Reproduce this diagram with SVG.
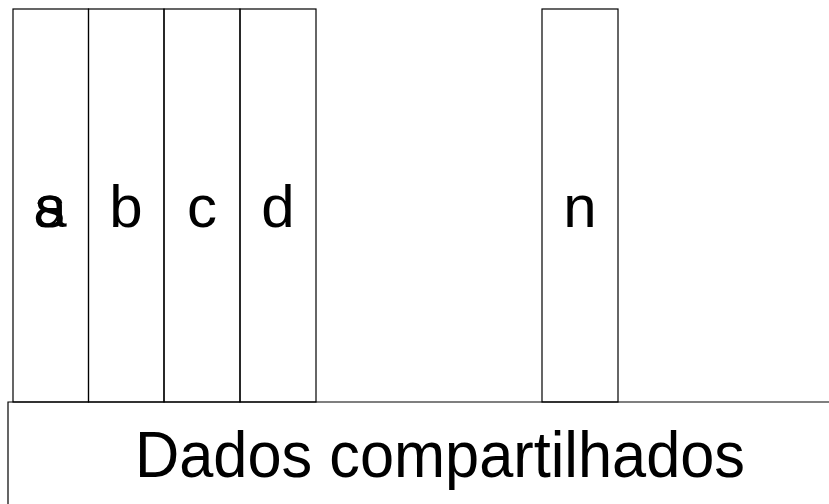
<svg xmlns="http://www.w3.org/2000/svg" width="829" height="504" viewBox="0 0 829 504">
  <style>
    .box { fill: none; stroke: #000; stroke-width: 1.2; }
    .lbl { font-family: "Liberation Sans", Arial, sans-serif; font-size: 60px; fill: #000; text-anchor: middle; }
    .base { font-family: "Liberation Sans", Arial, sans-serif; font-size: 64px; fill: #000; text-anchor: middle; }
  </style>
  <rect width="829" height="504" fill="#fff"/>
  <g id="col-a">
    <rect class="box" x="13" y="9" width="75.5" height="393"/>
    <!-- two labels printed on top of each other in this column -->
    <text class="lbl" x="50" y="227">a</text>
    <text class="lbl" x="50" y="227">s</text>
  </g>
  <g id="col-b">
    <rect class="box" x="88.5" y="9" width="75.5" height="393"/>
    <text class="lbl" x="126" y="227">b</text>
  </g>
  <g id="col-c">
    <rect class="box" x="164" y="9" width="76" height="393"/>
    <text class="lbl" x="202" y="227">c</text>
  </g>
  <g id="col-d">
    <rect class="box" x="240" y="9" width="76" height="393"/>
    <text class="lbl" x="278" y="227">d</text>
  </g>
  <g id="col-n">
    <rect class="box" x="542" y="9" width="76" height="393"/>
    <text class="lbl" x="580" y="227">n</text>
  </g>
  <g id="shared">
    <path class="box" d="M8 504 V402 H829"/>
    <text class="base" x="440" y="477" textLength="610" lengthAdjust="spacingAndGlyphs">Dados compartilhados</text>
  </g>
</svg>
